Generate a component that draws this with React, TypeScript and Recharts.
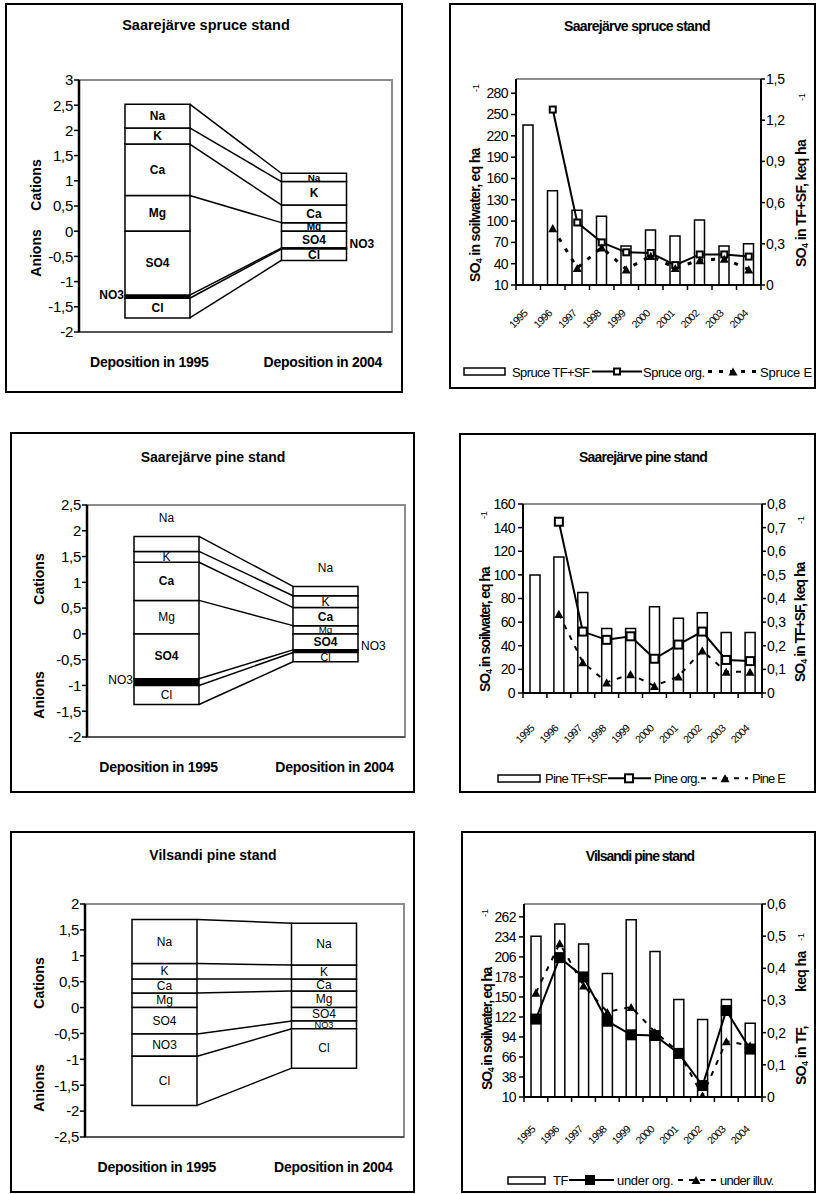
import React from 'react'
import { Bar, ComposedChart, LabelList, Line, ReferenceLine, XAxis, YAxis } from 'recharts'

const FONT = '"Liberation Sans", Arial, Helvetica, sans-serif'

// ion balance of deposition, keq ha-1 (cations up, anions down)
const IONS = ['Mg', 'Ca', 'K', 'Na', 'SO4', 'NO3', 'Cl']
const DEPOSITION_X = [1, 3]
const DEPOSITION_LABELS = ['Deposition in 1995', 'Deposition in 2004']

const spruceIons1995 = [0.71, 1.02, 0.32, 0.47, -1.27, -0.06, -0.39]
const spruceIons2004 = [0.17, 0.35, 0.465, 0.165, -0.335, -0.02, -0.225]
const pineIons1995 = [0.65, 0.74, 0.21, 0.29, -0.87, -0.13, -0.37]
const pineIons2004 = [0.16, 0.35, 0.23, 0.18, -0.31, -0.05, -0.18]
const vilsandiIons1995 = [0.28, 0.27, 0.3, 0.85, -0.51, -0.43, -0.95]
const vilsandiIons2004 = [0.32, 0.23, 0.27, 0.81, -0.26, -0.15, -0.76]

const spruceIonTicks = [-2, -1.5, -1, -0.5, 0, 0.5, 1, 1.5, 2, 2.5, 3]
const pineIonTicks = [-2, -1.5, -1, -0.5, 0, 0.5, 1, 1.5, 2, 2.5]
const vilsandiIonTicks = [-2.5, -2, -1.5, -1, -0.5, 0, 0.5, 1, 1.5, 2]

// SO4 in throughfall (keq ha-1, bars) and soil water (eq ha-1, lines)
const YEARS = ['1995', '1996', '1997', '1998', '1999', '2000', '2001', '2002', '2003', '2004']

const spruceTF = [1.165, 0.687, 0.544, 0.5, 0.284, 0.4, 0.356, 0.473, 0.284, 0.3]
const spruceOrg = [null, 257, 98, 70, 56, 55, 38, 53, 53, 50]
const spruceE = [null, 90, 34, 63, 32, 51, 34, 45, 47, 32]

const pineTF = [0.5, 0.576, 0.425, 0.273, 0.273, 0.365, 0.316, 0.34, 0.256, 0.256]
const pineOrg = [null, 145, 52, 45, 48, 29, 41, 52, 28, 27]
const pineE = [null, 67, 26, 9, 16, 6, 14, 36, 18, 18]

const vilsandiTF = [0.5, 0.538, 0.476, 0.384, 0.551, 0.452, 0.303, 0.241, 0.303, 0.229]
const underOrg = [119, 205, 178, 116, 97, 96, 71, 26, 131, 77]
const underIlluv = [156, 225, 166, 129, 136, 101, 73, 12, 88, 82]

const spruceSoilTicks = [10, 40, 70, 100, 130, 160, 190, 220, 250, 280]
const spruceTFTicks = [0, 0.3, 0.6, 0.9, 1.2, 1.5]
const pineSoilTicks = [0, 20, 40, 60, 80, 100, 120, 140, 160]
const pineTFTicks = [0, 0.1, 0.2, 0.3, 0.4, 0.5, 0.6, 0.7, 0.8]
const vilsandiSoilTicks = [10, 38, 66, 94, 122, 150, 178, 206, 234, 262]
const vilsandiTFTicks = [0, 0.1, 0.2, 0.3, 0.4, 0.5, 0.6]

const comma = (v: number) => String(v).replace('.', ',')

type Box = { x: number; y: number; w: number; h: number }
type IonLook = { bold: boolean[]; naAbove: boolean; no3Black: boolean; no3Outside: boolean }

function ionBounds(vals: number[]) {
  let pos = 0
  let neg = 0
  return vals.map((v) => (v >= 0 ? (pos += v) : (neg += v)))
}

function ionLabel(p: any, j: number, look: IonLook) {
  const box = p.viewBox ?? p
  const x = Number(box.x)
  const w = Number(box.width)
  const y0 = Math.min(box.y, box.y + box.height)
  const y1 = Math.max(box.y, box.y + box.height)
  const mid = (y0 + y1) / 2
  const ion = IONS[j]
  const common = {
    fontFamily: FONT,
    fontSize: 12,
    fontWeight: look.bold[j] ? 700 : 400,
    fill: '#000',
    dominantBaseline: 'central' as const,
  }
  if (ion === 'NO3' && look.no3Outside) {
    return p.index === 0 ? (
      <text {...common} x={x - 1} y={mid - 2} textAnchor="end">{ion}</text>
    ) : (
      <text {...common} x={x + w + 3} y={mid - 5} textAnchor="start">{ion}</text>
    )
  }
  if (ion === 'Na' && look.naAbove) {
    return <text {...common} x={x + w / 2} y={y0 - 18} textAnchor="middle">{ion}</text>
  }
  // squeeze the text in thin slices
  const size = Math.min(12, y1 - y0 + 1.5)
  return <text {...common} fontSize={size} x={x + w / 2} y={mid} textAnchor="middle">{ion}</text>
}

function depTick(p: any) {
  const i = DEPOSITION_X.indexOf(Number(p.payload.value))
  const shift = i === 0 ? -8 : 9
  return (
    <text x={p.x + shift} y={p.y + 35} textAnchor="middle" fontFamily={FONT} fontSize={14} fontWeight={700} letterSpacing={-0.3} fill="#000">
      {DEPOSITION_LABELS[i]}
    </text>
  )
}

function IonChart({ left, plot, v1995, v2004, domain, ticks, look }: {
  left: number; plot: Box; v1995: number[]; v2004: number[]; domain: [number, number]; ticks: number[]; look: IonLook
}) {
  const rows = DEPOSITION_X.map((x, i) => {
    const vals = i === 0 ? v1995 : v2004
    const row: Record<string, number> = { x }
    IONS.forEach((ion, j) => { row[ion] = vals[j] })
    return row
  })
  const top = plot.y - 15
  const width = plot.x + plot.w + 8 - left
  const height = plot.h + 65
  const barPx = 65
  const half = barPx / 2 / (plot.w / 4)
  const b95 = ionBounds(v1995)
  const b04 = ionBounds(v2004)

  return (
    <div style={{ position: 'absolute', left, top }}>
      <ComposedChart width={width} height={height} data={rows} stackOffset="sign" margin={{ top: 15, right: 8, bottom: 5, left: 0 }}>
        <XAxis dataKey="x" type="number" domain={[0, 4]} ticks={DEPOSITION_X} interval={0} allowDataOverflow height={45}
          tickSize={0} tickMargin={0} tickLine={false} axisLine={{ stroke: '#555', strokeWidth: 2 }} tick={depTick} />
        <YAxis type="number" domain={domain} ticks={ticks} interval={0} allowDataOverflow width={plot.x - left}
          tickSize={5} tickMargin={1} tickFormatter={comma}
          tick={{ fill: '#000', fontSize: 15, fontFamily: FONT, letterSpacing: -0.3 }}
          tickLine={{ stroke: '#000', strokeWidth: 1.5 }} axisLine={{ stroke: '#000', strokeWidth: 2.5 }} />
        {IONS.map((ion, j) => (
          <Bar key={ion} dataKey={ion} stackId="ions" barSize={barPx} isAnimationActive={false}
            fill={look.no3Black && ion === 'NO3' ? '#000' : '#fff'} stroke="#000" strokeWidth={1.5}>
            <LabelList dataKey={ion} content={(p: any) => ionLabel(p, j, look)} />
          </Bar>
        ))}
        {b95.map((v, j) => (
          <ReferenceLine key={j} ifOverflow="visible" stroke="#000" strokeWidth={1.5}
            segment={[{ x: DEPOSITION_X[0] + half, y: v }, { x: DEPOSITION_X[1] - half, y: b04[j] }]} />
        ))}
      </ComposedChart>
    </div>
  )
}

function squareShape(cx: number, cy: number, size: number, filled: boolean, key?: string) {
  return <rect key={key} x={cx - size / 2} y={cy - size / 2} width={size} height={size} fill={filled ? '#000' : '#fff'} stroke="#000" strokeWidth={2} />
}

function triangleShape(cx: number, cy: number, size: number, key?: string) {
  const h = size * 0.9
  return <path key={key} d={`M${cx},${cy - h / 2} L${cx + size / 2},${cy + h / 2} L${cx - size / 2},${cy + h / 2} Z`} fill="#000" />
}

const squareDot = (size: number, filled: boolean) => (p: any) =>
  p.cy == null || !Number.isFinite(p.cy) ? <g key={`s${p.index}`} /> : squareShape(p.cx, p.cy, size, filled, `s${p.index}`)

const triangleDot = (size: number) => (p: any) =>
  p.cy == null || !Number.isFinite(p.cy) ? <g key={`t${p.index}`} /> : triangleShape(p.cx, p.cy, size, `t${p.index}`)

const yearTick = (band: number, dy: number) => (p: any) => {
  const last = p.payload.value === YEARS[YEARS.length - 1]
  return (
    <g>
      <line x1={p.x - band / 2} x2={p.x - band / 2} y1={p.y} y2={p.y + 5} stroke="#000" strokeWidth={1.5} />
      {last && <line x1={p.x + band / 2} x2={p.x + band / 2} y1={p.y} y2={p.y + 5} stroke="#000" strokeWidth={1.5} />}
      <text transform={`translate(${p.x},${p.y + dy}) rotate(-45)`} textAnchor="end" fontSize={10.5} fontFamily={FONT} letterSpacing={-0.6} fill="#000">
        {p.payload.value}
      </text>
    </g>
  )
}

function SoilChart({ left, plot, tf, org, e, soilDomain, soilTicks, tfDomain, tfTicks, yearDy, orgSize, orgFilled, eDash, eWidth }: {
  left: number; plot: Box; tf: number[]; org: (number | null)[]; e: (number | null)[]
  soilDomain: [number, number]; soilTicks: number[]; tfDomain: [number, number]; tfTicks: number[]
  yearDy: number; orgSize: number; orgFilled: boolean; eDash: string; eWidth: number
}) {
  const rows = YEARS.map((year, i) => ({ year, tf: tf[i], org: org[i], e: e[i] }))
  const top = plot.y - 10
  const leftW = plot.x - left
  const rightW = 48
  const width = leftW + plot.w + rightW
  const height = plot.h + 70
  const band = plot.w / YEARS.length
  const tickFont = { fill: '#000', fontSize: 14, fontFamily: FONT, letterSpacing: -0.6 }

  return (
    <div style={{ position: 'absolute', left, top }}>
      <ComposedChart width={width} height={height} data={rows} margin={{ top: 10, right: 0, bottom: 0, left: 0 }}>
        <XAxis dataKey="year" interval={0} height={60} tickSize={0} tickMargin={0} tickLine={false}
          axisLine={{ stroke: '#000', strokeWidth: 2 }} tick={yearTick(band, yearDy)} />
        <YAxis yAxisId="soil" domain={soilDomain} ticks={soilTicks} interval={0} allowDataOverflow width={leftW}
          tickSize={5} tickMargin={3} tick={tickFont} tickLine={{ stroke: '#000', strokeWidth: 1.5 }} axisLine={{ stroke: '#000', strokeWidth: 2 }} />
        <YAxis yAxisId="tf" orientation="right" domain={tfDomain} ticks={tfTicks} interval={0} allowDataOverflow width={rightW}
          tickSize={4} tickMargin={1} tickFormatter={comma} tick={{ ...tickFont, letterSpacing: -0.2 }}
          tickLine={{ stroke: '#000', strokeWidth: 1.5 }} axisLine={{ stroke: '#000', strokeWidth: 2 }} />
        <Bar yAxisId="tf" dataKey="tf" barSize={10} fill="#fff" stroke="#000" strokeWidth={1.5} isAnimationActive={false} />
        <Line yAxisId="soil" dataKey="org" stroke="#000" strokeWidth={2} dot={squareDot(orgSize, orgFilled)} activeDot={false} isAnimationActive={false} />
        <Line yAxisId="soil" dataKey="e" stroke="#000" strokeWidth={eWidth} strokeDasharray={eDash} dot={triangleDot(9)} activeDot={false} isAnimationActive={false} />
      </ComposedChart>
    </div>
  )
}

function VText({ x, y, children, size = 14, weight = 700, anchor = 'middle', ls = 0 }: any) {
  return (
    <text transform={`translate(${x},${y}) rotate(-90)`} textAnchor={anchor} fontSize={size} fontWeight={weight}
      fontFamily={FONT} letterSpacing={ls} dominantBaseline="central" fill="#000">
      {children}
    </text>
  )
}

function Title({ x, y, ls = 0, size = 14, children }: any) {
  return (
    <text x={x} y={y} textAnchor="middle" dominantBaseline="central" fontFamily={FONT} fontSize={size} fontWeight={700} letterSpacing={ls} fill="#000">
      {children}
    </text>
  )
}

function SO4({ rest }: { rest: string }) {
  return (
    <>
      <tspan>SO</tspan>
      <tspan fontSize={9} dy={4}>4</tspan>
      <tspan dy={-4}>{rest}</tspan>
    </>
  )
}

function LegendText({ x, y, ls, children }: any) {
  return (
    <text x={x} y={y} dominantBaseline="central" fontFamily={FONT} fontSize={13} letterSpacing={ls} fill="#000">{children}</text>
  )
}

const FRAMES: Box[] = [
  { x: 6, y: 4, w: 396, h: 388 },
  { x: 450, y: 4, w: 365, h: 384 },
  { x: 11, y: 433, w: 403, h: 359 },
  { x: 460, y: 434, w: 355, h: 358 },
  { x: 11, y: 832, w: 403, h: 360 },
  { x: 462, y: 832, w: 353, h: 360 },
]

const PLOT_TL: Box = { x: 79, y: 80, w: 313, h: 252 }
const PLOT_ML: Box = { x: 87, y: 505, w: 318, h: 232 }
const PLOT_BL: Box = { x: 85, y: 904, w: 319, h: 233 }
const PLOT_TR: Box = { x: 516, y: 79, w: 245, h: 206 }
const PLOT_MR: Box = { x: 523, y: 504, w: 239, h: 189 }
const PLOT_BR: Box = { x: 524, y: 904, w: 238, h: 193 }

const LOOK_SPRUCE: IonLook = { bold: [true, true, true, true, true, true, true], naAbove: false, no3Black: true, no3Outside: true }
const LOOK_PINE: IonLook = { bold: [false, true, false, false, true, false, false], naAbove: true, no3Black: true, no3Outside: true }
const LOOK_VILSANDI: IonLook = { bold: [false, false, false, false, false, false, false], naAbove: false, no3Black: false, no3Outside: false }

export default function App() {
  return (
    <div style={{ position: 'absolute', left: 0, top: 0, width: 817, height: 1194, background: '#fff', fontFamily: FONT }}>
      <svg width={817} height={1194} style={{ position: 'absolute', left: 0, top: 0 }}>
        {FRAMES.map((f, i) => (
          <rect key={i} x={f.x} y={f.y} width={f.w} height={f.h} fill="none" stroke="#000" strokeWidth={2} />
        ))}
        {[PLOT_TL, PLOT_ML, PLOT_BL].map((p, i) => (
          <rect key={i} x={p.x} y={p.y} width={p.w} height={p.h} fill="none" stroke="#8c8c8c" strokeWidth={2} />
        ))}
        {[PLOT_TR, PLOT_MR, PLOT_BR].map((p, i) => (
          <line key={i} x1={p.x} x2={p.x + p.w} y1={p.y} y2={p.y} stroke="#8c8c8c" strokeWidth={2} />
        ))}

        <Title x={206} y={25} size={14.5}>Saarejärve spruce stand</Title>
        <Title x={637} y={26} ls={-0.7}>Saarejärve spruce stand</Title>
        <Title x={213} y={457}>Saarejärve pine stand</Title>
        <Title x={643} y={457} ls={-0.8}>Saarejärve pine stand</Title>
        <Title x={213} y={855}>Vilsandi pine stand</Title>
        <Title x={640} y={856} ls={-1}>Vilsandi pine stand</Title>

        <VText x={35.5} y={185}>Cations</VText>
        <VText x={35.5} y={253}>Anions</VText>
        <VText x={38.5} y={579}>Cations</VText>
        <VText x={38.5} y={695}>Anions</VText>
        <VText x={38.5} y={983}>Cations</VText>
        <VText x={38.5} y={1088}>Anions</VText>

        <VText x={475} y={282} anchor="start" ls={-0.7}><SO4 rest=" in soilwater, eq ha" /></VText>
        <VText x={476} y={88} size={9} weight={400}>-1</VText>
        <VText x={801} y={267} anchor="start" ls={-0.6}><SO4 rest=" in TF+SF, keq ha" /></VText>
        <VText x={802} y={97} size={9} weight={400}>-1</VText>

        <VText x={485} y={692} anchor="start" ls={-1.1}><SO4 rest=" in soilwater, eq ha" /></VText>
        <VText x={484} y={515} size={9} weight={400}>-1</VText>
        <VText x={800} y={682} anchor="start" ls={-1}><SO4 rest=" in TF+SF, keq ha" /></VText>
        <VText x={801} y={520} size={9} weight={400}>-1</VText>

        <VText x={487} y={1090} anchor="start" ls={-1.2}><SO4 rest=" in soilwater, eq ha" /></VText>
        <VText x={485} y={913} size={9} weight={400}>-1</VText>
        <VText x={801} y={1085} anchor="start" ls={-0.6}><SO4 rest=" in TF," /></VText>
        <VText x={801} y={992} anchor="start" ls={-0.6}>keq ha</VText>
        <VText x={801} y={937} size={9} weight={400}>-1</VText>

        {/* legends */}
        <rect x={464} y={368} width={41} height={7} fill="#fff" stroke="#000" strokeWidth={1.5} />
        <LegendText x={512} y={372} ls={-0.6}>Spruce TF+SF</LegendText>
        <line x1={592} x2={642} y1={371.5} y2={371.5} stroke="#000" strokeWidth={2} />
        {squareShape(617, 371.5, 6, false)}
        <LegendText x={643} y={372} ls={-0.5}>Spruce org.</LegendText>
        <line x1={708} x2={758} y1={371.5} y2={371.5} stroke="#000" strokeWidth={3} strokeDasharray="4 7" />
        {triangleShape(733, 371.5, 9)}
        <LegendText x={760} y={372} ls={-0.2}>Spruce E</LegendText>

        <rect x={498} y={775} width={42} height={7} fill="#fff" stroke="#000" strokeWidth={1.5} />
        <LegendText x={545} y={778.5} ls={-0.75}>Pine TF+SF</LegendText>
        <line x1={608} x2={651} y1={778.3} y2={778.3} stroke="#000" strokeWidth={2} />
        {squareShape(629, 778.3, 8, false)}
        <LegendText x={654} y={778.5} ls={-0.7}>Pine org.</LegendText>
        <line x1={701} x2={748} y1={778.3} y2={778.3} stroke="#000" strokeWidth={2} strokeDasharray="5 6" />
        {triangleShape(725, 778.3, 9)}
        <LegendText x={752} y={778.5} ls={-0.9}>Pine E</LegendText>

        <rect x={508} y={1177} width={37} height={7} fill="#fff" stroke="#000" strokeWidth={1.5} />
        <LegendText x={553} y={1180.5} ls={-0.5}>TF</LegendText>
        <line x1={569} x2={614} y1={1180} y2={1180} stroke="#000" strokeWidth={2} />
        {squareShape(590, 1180, 8, true)}
        <LegendText x={617} y={1180.5} ls={-0.3}>under org.</LegendText>
        <line x1={678} x2={717} y1={1180} y2={1180} stroke="#000" strokeWidth={2} strokeDasharray="5 6" />
        {triangleShape(696, 1180, 9)}
        <LegendText x={720} y={1180.5} ls={-0.7}>under illuv.</LegendText>
      </svg>

      <IonChart left={8} plot={PLOT_TL} v1995={spruceIons1995} v2004={spruceIons2004} domain={[-2, 3]} ticks={spruceIonTicks} look={LOOK_SPRUCE} />
      <IonChart left={13} plot={PLOT_ML} v1995={pineIons1995} v2004={pineIons2004} domain={[-2, 2.5]} ticks={pineIonTicks} look={LOOK_PINE} />
      <IonChart left={13} plot={PLOT_BL} v1995={vilsandiIons1995} v2004={vilsandiIons2004} domain={[-2.5, 2]} ticks={vilsandiIonTicks} look={LOOK_VILSANDI} />

      <SoilChart left={452} plot={PLOT_TR} tf={spruceTF} org={spruceOrg} e={spruceE} soilDomain={[10, 300]} soilTicks={spruceSoilTicks}
        tfDomain={[0, 1.5]} tfTicks={spruceTFTicks} yearDy={29} orgSize={6} orgFilled={false} eDash="4 8" eWidth={3} />
      <SoilChart left={462} plot={PLOT_MR} tf={pineTF} org={pineOrg} e={pineE} soilDomain={[0, 160]} soilTicks={pineSoilTicks}
        tfDomain={[0, 0.8]} tfTicks={pineTFTicks} yearDy={36} orgSize={8} orgFilled={false} eDash="5 7" eWidth={2} />
      <SoilChart left={464} plot={PLOT_BR} tf={vilsandiTF} org={underOrg} e={underIlluv} soilDomain={[10, 280]} soilTicks={vilsandiSoilTicks}
        tfDomain={[0, 0.6]} tfTicks={vilsandiTFTicks} yearDy={33} orgSize={9} orgFilled={true} eDash="5 7" eWidth={2} />
    </div>
  )
}
